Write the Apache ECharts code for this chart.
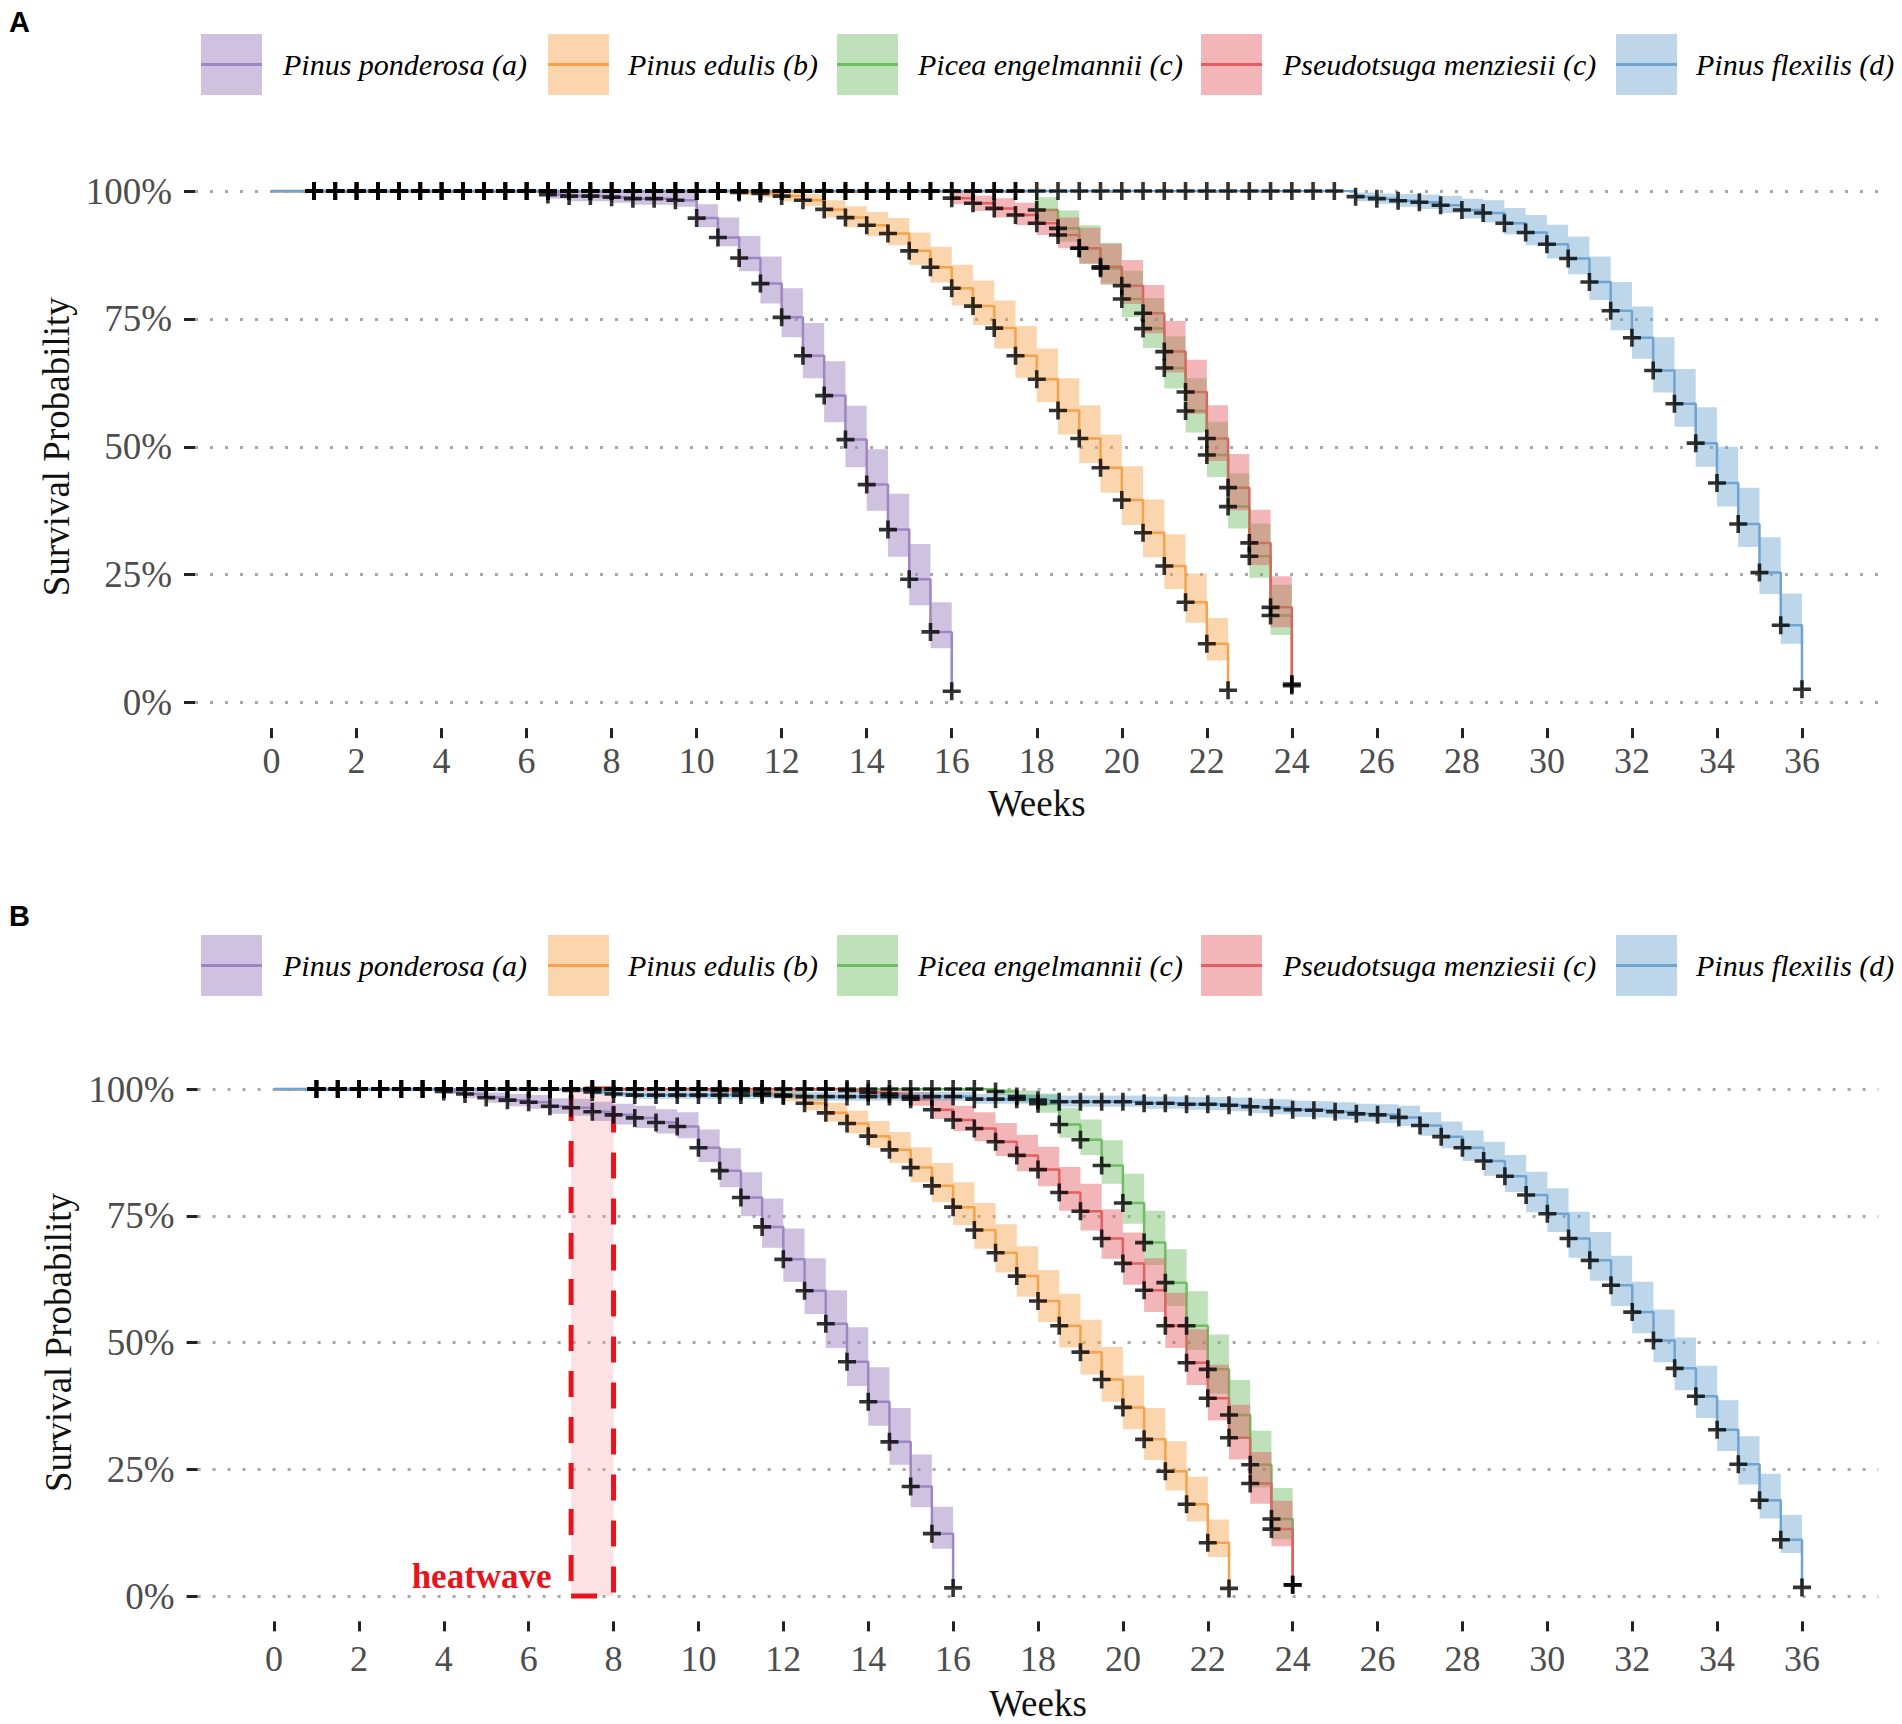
<!DOCTYPE html>
<html><head><meta charset="utf-8">
<script src="https://cdn.jsdelivr.net/npm/echarts@6/dist/echarts.min.js"></script>
<style>html,body{margin:0;padding:0;background:#fff}#c{width:1902px;height:1724px}</style>
</head><body><div id="c"></div>
<script>
// ---------- data (survival %) ----------
const weeks = [0,0.5,1,1.5,2,2.5,3,3.5,4,4.5,5,5.5,6,6.5,7,7.5,8,8.5,9,9.5,10,10.5,11,11.5,12,12.5,13,13.5,14,14.5,15,15.5,16,16.5,17,17.5,18,18.5,19,19.5,20,20.5,21,21.5,22,22.5,23,23.5,24,24.5,25,25.5,26,26.5,27,27.5,28,28.5,29,29.5,30,30.5,31,31.5,32,32.5,33,33.5,34,34.5,35,35.5,36];
const xTickValues = [0,2,4,6,8,10,12,14,16,18,20,22,24,26,28,30,32,34,36];
const yTickValues = [0,25,50,75,100];
const speciesNames = ['Pinus ponderosa (a)','Pinus edulis (b)','Picea engelmannii (c)','Pseudotsuga menziesii (c)','Pinus flexilis (d)'];
const heatwaveWeeks = [7, 8];

// Panel A
const A_ponderosa_S = [100,100,100,100,100,100,100,100,100,100, 100,100,100, 99.3,99.0,99.0,98.8,98.5,98.5,98.2,94.7,90.9,86.9,81.9,75.3,67.8,60.0,51.4,42.6,33.8,24.1,13.8,2.2];
const A_ponderosa_up = [0,0,0,0,0,0,0,0,0,0, 0,0,0, 0.5,0.8,0.8,1.0,1.2,1.2,1.4,2.7,3.9,4.3,5.3,5.7,6.4,6.7,6.6,6.9,7.0,6.9,5.8,0];
const A_ponderosa_lo = [0,0,0,0,0,0,0,0,0,0, 0,0,0, 0.8,1.0,1.0,1.1,1.2,1.2,1.3,1.8,1.7,2.6,3.9,3.9,4.4,5.2,5.4,5.1,5.3,5.1,3.2,0];

const A_edulis_S = [100,100,100,100,100,100,100,100,100,100, 100,100,100,100,100,100,100,100,100,100, 100,100, 99.7,99.5,99.0,98.2,96.4,94.8,93.3,91.7,88.3,85.1,81.0,77.5,73.2,67.8,63.2,57.1,51.6,45.9,39.6,33.2,26.7,19.6,11.5,2.4];
const A_edulis_up = [0,0,0,0,0,0,0,0,0,0, 0,0,0,0,0,0,0,0,0,0, 0,0, 0.3,0.5,0.8,1.2,1.8,2.2,2.6,3.0,3.6,4.0,4.6,5.0,5.4,5.8,6.0,6.3,6.5,6.5,6.6,6.5,6.2,5.6,5.0,0];
const A_edulis_lo = [0,0,0,0,0,0,0,0,0,0, 0,0,0,0,0,0,0,0,0,0, 0,0, 0.5,0.7,1.0,1.2,1.6,1.9,2.1,2.3,2.7,3.0,3.4,3.7,4.0,4.3,4.5,4.7,4.8,4.9,4.9,4.8,4.5,4.0,3.3,0];

const A_engelmannii_S = [100,100,100,100,100,100,100,100,100,100, 100,100,100,100,100,100,100,100,100,100, 100,100,100,100,100,100,100,100,100,100, 100,100,100,100,100,100, 96.3,92.7,88.8,84.9,78.9,73.1,65.4,57.0,48.4,38.3,28.6,17.0,3.3];
const A_engelmannii_up = [0,0,0,0,0,0,0,0,0,0, 0,0,0,0,0,0,0,0,0,0, 0,0,0,0,0,0,0,0,0,0, 0,0,0,0,0,0, 2.5,3.5,4.5,5.0,5.5,6.0,6.2,6.4,6.5,6.5,6.4,6.0,0];
const A_engelmannii_lo = [0,0,0,0,0,0,0,0,0,0, 0,0,0,0,0,0,0,0,0,0, 0,0,0,0,0,0,0,0,0,0, 0,0,0,0,0,0, 2.2,2.6,3.0,3.3,3.6,3.8,4.0,4.2,4.3,4.3,4.2,3.8,0];

const A_menziesii_S = [100,100,100,100,100,100,100,100,100,100, 100,100,100,100,100,100,100,100,100,100, 100,100,100,100,100,100,100,100,100,100, 100,100, 98.6,97.6,96.6,95.3,93.7,91.4,88.8,85.2,81.5,76.1,68.6,60.7,51.6,42.0,31.2,18.6,3.6];
const A_menziesii_up = [0,0,0,0,0,0,0,0,0,0, 0,0,0,0,0,0,0,0,0,0, 0,0,0,0,0,0,0,0,0,0, 0,0, 1.0,1.5,2.0,2.4,2.9,3.4,4.0,4.5,5.0,5.5,6.0,6.3,6.5,6.6,6.5,6.1,0];
const A_menziesii_lo = [0,0,0,0,0,0,0,0,0,0, 0,0,0,0,0,0,0,0,0,0, 0,0,0,0,0,0,0,0,0,0, 0,0, 1.2,1.5,1.8,2.0,2.3,2.6,3.0,3.3,3.6,3.9,4.1,4.3,4.4,4.4,4.3,3.9,0];

const A_flexilis_S = [100,100,100,100,100,100,100,100,100,100, 100,100,100,100,100,100,100,100,100,100, 100,100,100,100,100,100,100,100,100,100, 100,100,100,100,100,100,100,100,100,100, 100,100,100,100,100,100,100,100,100,100, 100, 98.9,98.5,98.1,97.8,97.2,96.3,95.7,93.7,91.9,89.6,86.8,82.2,76.6,71.3,64.9,58.4,50.7,42.9,34.9,25.4,15.1,2.6];
const A_flexilis_up = [0,0,0,0,0,0,0,0,0,0, 0,0,0,0,0,0,0,0,0,0, 0,0,0,0,0,0,0,0,0,0, 0,0,0,0,0,0,0,0,0,0, 0,0,0,0,0,0,0,0,0,0, 0, 0.8,1.0,1.3,1.5,1.8,2.2,2.5,3.0,3.4,3.8,4.3,5.0,5.6,6.1,6.5,6.8,7.0,7.1,7.1,6.9,6.2,0];
const A_flexilis_lo = [0,0,0,0,0,0,0,0,0,0, 0,0,0,0,0,0,0,0,0,0, 0,0,0,0,0,0,0,0,0,0, 0,0,0,0,0,0,0,0,0,0, 0,0,0,0,0,0,0,0,0,0, 0, 0.9,1.0,1.2,1.3,1.5,1.7,1.8,2.2,2.5,2.8,3.1,3.5,3.8,4.1,4.3,4.5,4.6,4.6,4.5,4.2,3.6,0];

// Panel B
const B_ponderosa_S = [100,100,100,100,100,100,100,100, 99.5,99.0,98.3,97.8,97.4,96.6,96.3,95.5,94.9,94.3,93.4,92.6,88.4,83.9,78.6,72.8,66.4,60.2,53.7,46.2,38.3,30.4,21.6,12.3,1.6];
const B_ponderosa_up = [0,0,0,0,0,0,0,0, 0.5,0.8,1.0,1.2,1.4,1.6,1.8,2.0,2.2,2.4,2.6,2.8,3.6,4.4,5.0,5.6,6.1,6.4,6.6,6.8,6.8,6.7,6.3,5.3,0];
const B_ponderosa_lo = [0,0,0,0,0,0,0,0, 0.5,0.8,1.0,1.2,1.3,1.5,1.6,1.8,1.9,2.0,2.2,2.3,2.8,3.3,3.7,4.1,4.4,4.6,4.8,4.8,4.7,4.5,4.1,3.0,0];

const B_edulis_S = [100,100,100,100,100,100,100,100,100,100, 100,100,100,100,100,100,100,100,100,100, 100, 99.7,99.5,99.2,98.6,97.2,95.3,93.2,90.7,88.0,84.5,80.9,76.7,72.2,67.7,63.1,58.2,53.3,48.1,42.7,37.2,30.9,24.6,18.1,10.5,1.5];
const B_edulis_up = [0,0,0,0,0,0,0,0,0,0, 0,0,0,0,0,0,0,0,0,0, 0, 0.3,0.5,0.7,1.0,1.5,2.0,2.5,3.0,3.5,4.0,4.5,4.9,5.3,5.6,5.9,6.1,6.3,6.4,6.4,6.3,6.2,5.9,5.4,4.6,0];
const B_edulis_lo = [0,0,0,0,0,0,0,0,0,0, 0,0,0,0,0,0,0,0,0,0, 0, 0.4,0.6,0.8,1.0,1.4,1.7,2.0,2.3,2.6,2.9,3.2,3.5,3.7,3.9,4.1,4.2,4.3,4.4,4.4,4.3,4.1,3.8,3.4,2.8,0];

const B_engelmannii_S = [100,100,100,100,100,100,100,100,100,100, 100,100,100,100,100,100,100,100,100,100, 100,100,100,100,100,100,100,100,100,100, 100,100,100,100, 99.5,98.5,97.1,93.0,90.0,84.9,77.5,69.7,61.8,53.3,44.7,35.7,25.9,15.2,2.2];
const B_engelmannii_up = [0,0,0,0,0,0,0,0,0,0, 0,0,0,0,0,0,0,0,0,0, 0,0,0,0,0,0,0,0,0,0, 0,0,0,0, 0.5,1.2,2.0,3.3,4.0,5.0,5.8,6.3,6.6,6.8,6.9,6.9,6.7,6.1,0];
const B_engelmannii_lo = [0,0,0,0,0,0,0,0,0,0, 0,0,0,0,0,0,0,0,0,0, 0,0,0,0,0,0,0,0,0,0, 0,0,0,0, 0.7,1.2,1.8,2.6,3.0,3.6,4.1,4.4,4.6,4.8,4.8,4.7,4.5,4.0,0];

const B_menziesii_S = [100,100,100,100,100,100,100,100,100,100, 100,100,100,100,100,100,100,100,100,100, 100,100,100,100,100,100,100, 99.7,99.3,99.0,98.0,95.9,93.9,92.2,89.6,86.9,84.1,79.6,75.9,70.5,65.6,60.3,53.3,46.0,39.0,31.2,22.2,13.2,2.2];
const B_menziesii_up = [0,0,0,0,0,0,0,0,0,0, 0,0,0,0,0,0,0,0,0,0, 0,0,0,0,0,0,0, 0.3,0.6,0.9,1.4,2.2,2.8,3.2,3.7,4.1,4.5,5.0,5.4,5.8,6.1,6.3,6.5,6.6,6.6,6.5,6.2,5.6,0];
const B_menziesii_lo = [0,0,0,0,0,0,0,0,0,0, 0,0,0,0,0,0,0,0,0,0, 0,0,0,0,0,0,0, 0.4,0.7,0.9,1.3,1.8,2.2,2.5,2.8,3.1,3.3,3.6,3.8,4.0,4.2,4.3,4.4,4.4,4.4,4.3,4.0,3.4,0];

const B_flexilis_S = [100,100,100,100,100,100,100,100,100,100, 100,100,100,100, 99.7,99.4,99.0, 98.8,98.8,98.8,98.8,98.8,98.8,98.8,98.8, 98.5,98.5,98.5,98.5,98.5,98.5,98.5,98.5, 98.0,98.0,98.0,97.8,97.5,97.5,97.5,97.5,97.2,97.2,97.0,97.0,96.8,96.5,96.3,95.9,95.8,95.5,95.1,94.9,94.4, 92.8,90.6,88.4,85.8,82.8,79.1,75.4,70.5,66.2,61.3,56.0,50.4,44.9,39.4,32.8,26.0,18.9,11.1,1.7];
const B_flexilis_up = [0,0,0,0,0,0,0,0,0,0, 0,0,0,0, 0.3,0.5,0.7, 0.8,0.8,0.8,0.8,0.8,0.8,0.8,0.8, 0.9,0.9,0.9,0.9,0.9,0.9,0.9,0.9, 1.0,1.0,1.0,1.1,1.2,1.2,1.2,1.2,1.3,1.3,1.4,1.4,1.5,1.6,1.7,1.8,1.8,1.9,2.0,2.1,2.3, 2.6,3.0,3.4,3.8,4.2,4.6,5.0,5.3,5.6,5.8,6.0,6.1,6.1,6.0,5.8,5.5,5.2,4.9,0];
const B_flexilis_lo = [0,0,0,0,0,0,0,0,0,0, 0,0,0,0, 0.3,0.5,0.6, 0.7,0.7,0.7,0.7,0.7,0.7,0.7,0.7, 0.8,0.8,0.8,0.8,0.8,0.8,0.8,0.8, 0.9,0.9,0.9,1.0,1.0,1.0,1.0,1.0,1.1,1.1,1.1,1.2,1.2,1.3,1.3,1.4,1.4,1.5,1.5,1.6,1.7, 2.0,2.3,2.6,2.9,3.1,3.4,3.6,3.8,4.0,4.1,4.2,4.3,4.3,4.3,4.2,4.0,3.6,2.6,0];

// ---------- styling ----------
const lineColors = ['#9d86c2','#f5a24b','#6fbd63','#e35d62','#6fa3d0'];
const ribbonColors = ['rgba(157,134,194,0.5)','rgba(245,162,75,0.45)','rgba(111,189,99,0.45)','rgba(227,93,98,0.45)','rgba(111,163,208,0.45)'];
const SERIF = 'Liberation Serif';
const plusPath = 'path://M7.2,0H10.8V7.2H18V10.8H10.8V18H7.2V10.8H0V7.2H7.2Z';

const panelA = [
  {S:A_ponderosa_S, up:A_ponderosa_up, lo:A_ponderosa_lo},
  {S:A_edulis_S, up:A_edulis_up, lo:A_edulis_lo},
  {S:A_engelmannii_S, up:A_engelmannii_up, lo:A_engelmannii_lo},
  {S:A_menziesii_S, up:A_menziesii_up, lo:A_menziesii_lo},
  {S:A_flexilis_S, up:A_flexilis_up, lo:A_flexilis_lo}
];
const panelB = [
  {S:B_ponderosa_S, up:B_ponderosa_up, lo:B_ponderosa_lo},
  {S:B_edulis_S, up:B_edulis_up, lo:B_edulis_lo},
  {S:B_engelmannii_S, up:B_engelmannii_up, lo:B_engelmannii_lo},
  {S:B_menziesii_S, up:B_menziesii_up, lo:B_menziesii_lo},
  {S:B_flexilis_S, up:B_flexilis_up, lo:B_flexilis_lo}
];

const series = [];
function addPanel(gi, list){
  list.forEach((sp, k) => {
    const n = Math.min(sp.S.length, sp.up.length, sp.lo.length);
    const t = weeks.slice(0, n);
    const pts = t.map((x, i) => [x, sp.S[i]]);
    series.push({
      type:'line', name: speciesNames[k], xAxisIndex: gi, yAxisIndex: gi, step:'end', z: 1,
      showSymbol:false, symbol:'none', silent:true, animation:false,
      data: pts, lineStyle:{color: lineColors[k], width: 2.5}, itemStyle:{color: lineColors[k]}
    });
    series.push({
      type:'custom', name: speciesNames[k] + ' CI', xAxisIndex: gi, yAxisIndex: gi, z: 2, silent:true, clip:false,
      data: [[t[0], sp.S[0]]],
      renderItem: (params, api) => {
        const poly = [];
        for (let i = 0; i < n - 1; i++) {
          const hi = Math.min(100, sp.S[i] + sp.up[i]);
          poly.push(api.coord([t[i], hi]));
          poly.push(api.coord([t[i + 1], hi]));
        }
        for (let i = n - 2; i >= 0; i--) {
          const lo = Math.max(0, sp.S[i] - sp.lo[i]);
          poly.push(api.coord([t[i + 1], lo]));
          poly.push(api.coord([t[i], lo]));
        }
        return {type:'polygon', shape:{points: poly}, style:{fill: ribbonColors[k], stroke: null}};
      }
    });
    series.push({
      type:'scatter', name: speciesNames[k] + ' censored', xAxisIndex: gi, yAxisIndex: gi, z: 4, silent:true,
      data: pts.filter(d => d[0] >= 1), symbol: plusPath, symbolSize: 18, itemStyle:{color:'#000'}
    });
  });
}
addPanel(0, panelA);
addPanel(1, panelB);

// heatwave box (panel B)
series.push({
  type:'line', name:'heatwave', xAxisIndex:1, yAxisIndex:1, z:3, silent:true, symbol:'none',
  data:[[heatwaveWeeks[0], 0]], lineStyle:{opacity:0},
  markArea:{
    silent:true,
    itemStyle:{color:'rgba(243,150,160,0.28)', borderColor:'#e8141b', borderWidth:5, borderType:[26,20]},
    label:{show:true, formatter:'heatwave', position:[-17,'95.8%'], align:'right', verticalAlign:'middle',
      color:'#e8141b', fontFamily:SERIF, fontWeight:'bold', fontSize:35},
    data:[[{xAxis: heatwaveWeeks[0], yAxis: 0}, {xAxis: heatwaveWeeks[1], yAxis: 100}]]
  }
});

function mkX(gi, off, margin, gap){
  return {
    type:'value', gridIndex: gi, min:-1.8, max:37.8, offset: off,
    axisLine:{show:false, onZero:false},
    axisTick:{show:true, customValues: xTickValues, length:10, lineStyle:{color:'#222', width:3}},
    axisLabel:{customValues: xTickValues, margin: margin, color:'#4d4d4d', fontFamily:SERIF, fontSize:36},
    splitLine:{show:false},
    name:'Weeks', nameLocation:'middle', nameGap: gap,
    nameTextStyle:{color:'#111', fontFamily:SERIF, fontSize:37}
  };
}
function mkY(gi){
  return {
    type:'value', gridIndex: gi, min:0, max:100, interval:25,
    axisLine:{show:false, onZero:false},
    axisTick:{show:true, length:11, lineStyle:{color:'#222', width:3}},
    axisLabel:{formatter:'{value}%', margin:23, color:'#4d4d4d', fontFamily:SERIF, fontSize:37},
    splitLine:{show:true, lineStyle:{color:'#a8a8a8', width:3, type:[3,12]}},
    name:'Survival Probability', nameLocation:'middle', nameGap:120,
    nameTextStyle:{color:'#111', fontFamily:SERIF, fontSize:37}
  };
}

// legend drawn as graphic keys (ribbon box + line) with real text labels
const keyX = [201, 548, 837, 1201, 1616];
const textX = [283, 628, 918, 1283, 1696];
const legendTop = [34, 935];
const graphic = [];
legendTop.forEach(y0 => {
  speciesNames.forEach((nm, k) => {
    graphic.push({type:'rect', left: keyX[k], top: y0, shape:{width:61, height:61}, style:{fill: ribbonColors[k]}, silent:true});
    graphic.push({type:'line', shape:{x1: keyX[k], y1: y0 + 30.5, x2: keyX[k] + 61, y2: y0 + 30.5}, style:{stroke: lineColors[k], lineWidth:3}, silent:true});
    graphic.push({type:'text', x: textX[k], y: y0 + 30.5, silent:true,
      style:{text: nm, fill:'#000', fontFamily: SERIF, fontStyle:'italic', fontSize:30, verticalAlign:'middle'}});
  });
});

const option = {
  animation:false,
  backgroundColor:'#fff',
  title:[
    {text:'A', left:4, top:2, padding:5, textStyle:{fontFamily:'Liberation Sans', fontWeight:'bold', fontSize:29, color:'#000'}},
    {text:'B', left:4, top:896, padding:5, textStyle:{fontFamily:'Liberation Sans', fontWeight:'bold', fontSize:29, color:'#000'}}
  ],
  grid:[
    {left:195, top:191, width:1683.5, height:511.5},
    {left:197.6, top:1089, width:1680.8, height:507}
  ],
  xAxis:[mkX(0, 25.6, 15, 57), mkX(1, 25.35, 20, 64)],
  yAxis:[mkY(0), mkY(1)],
  series: series,
  graphic: graphic
};

const chart = echarts.init(document.getElementById('c'), null, {renderer:'svg', width:1902, height:1724});
chart.setOption(option);
</script>
</body></html>
